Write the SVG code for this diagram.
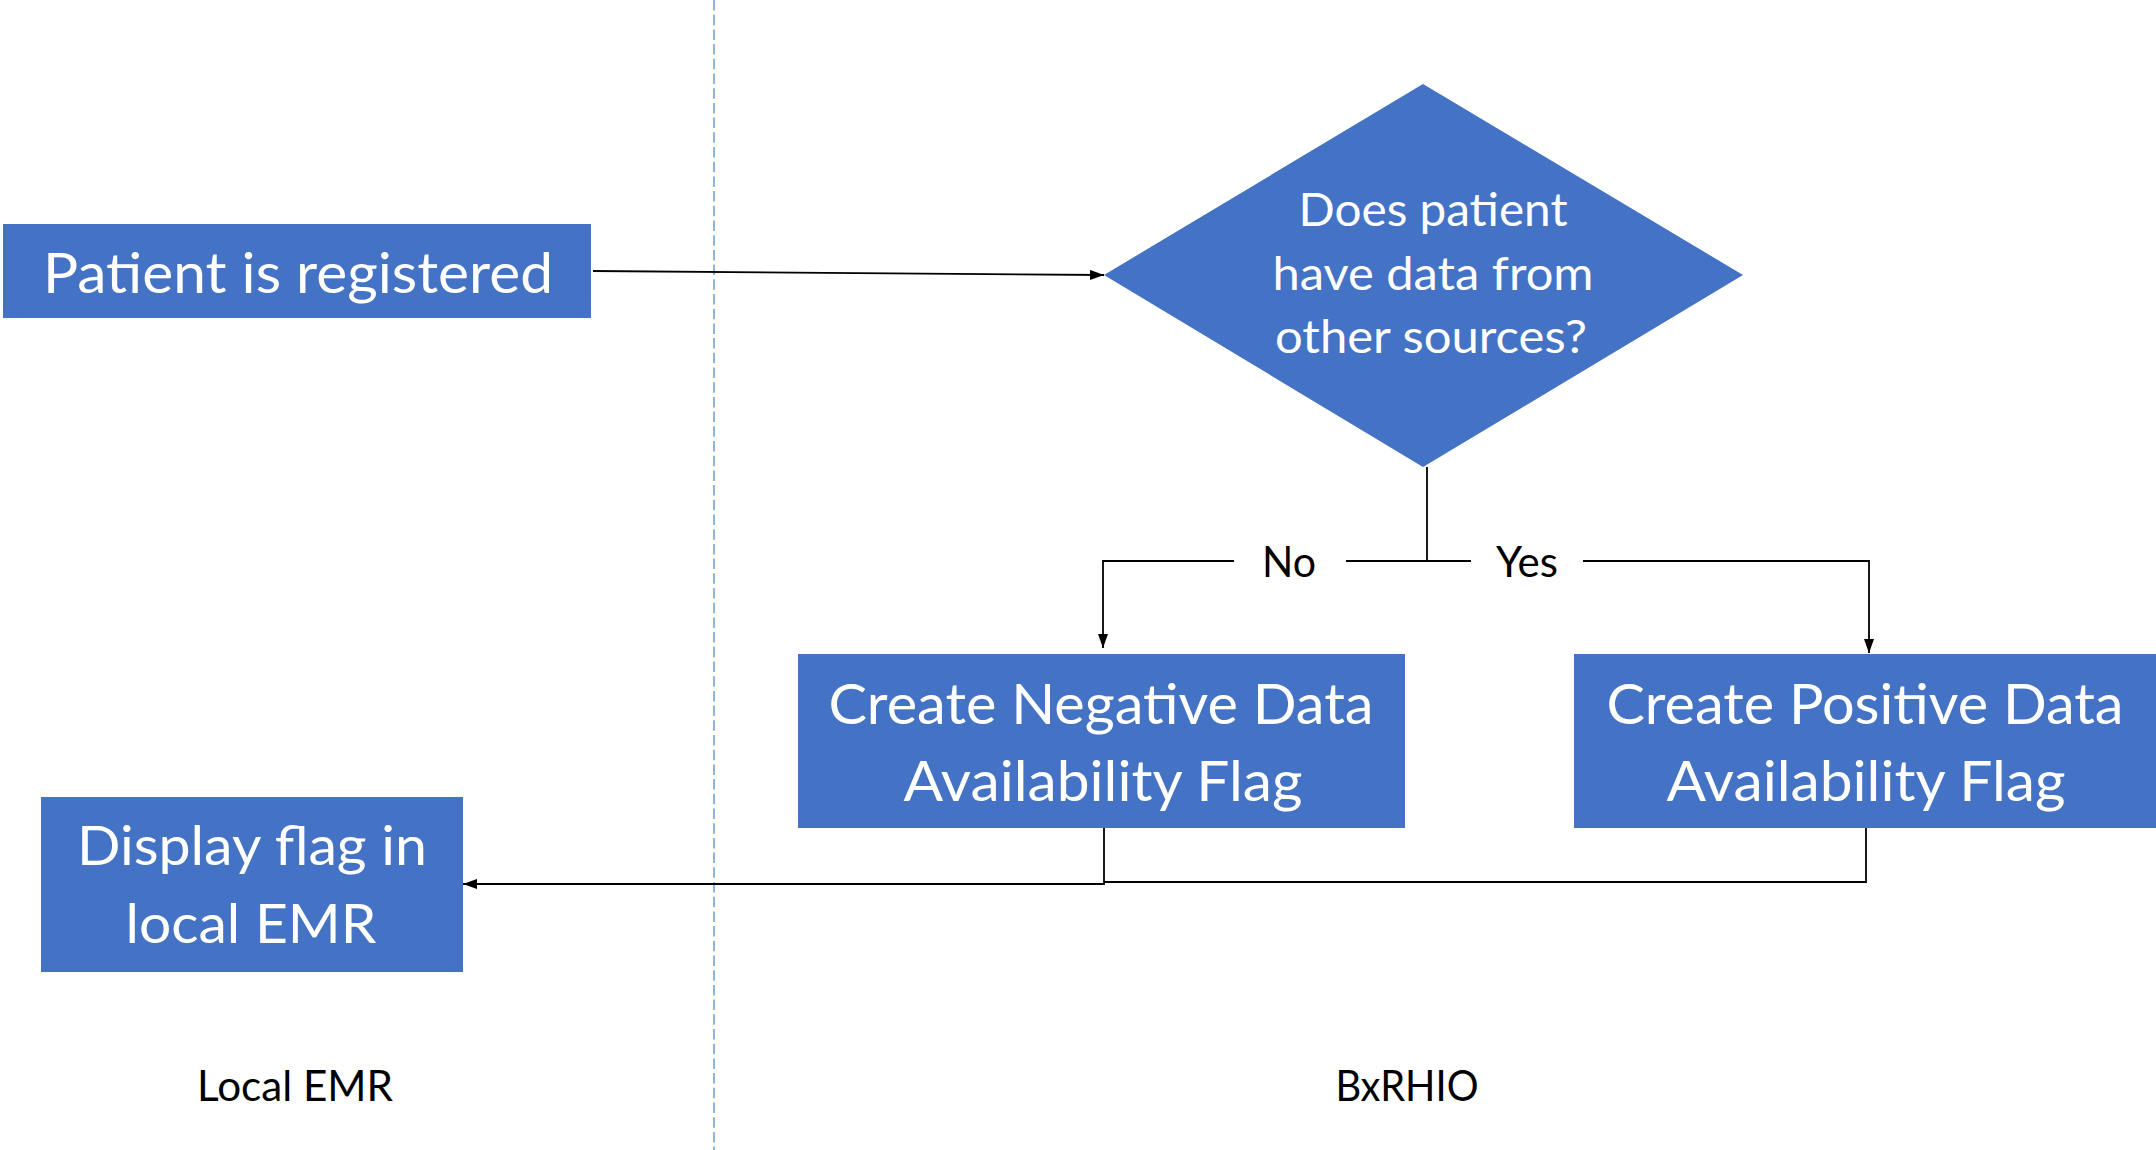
<svg xmlns="http://www.w3.org/2000/svg" width="2156" height="1150" viewBox="0 0 2156 1150">
  <style>
    .node { fill: #4472C4; }
    .nt { font-family: Lato, "Open Sans", "Liberation Sans", sans-serif; fill: #FFFFFF; text-anchor: middle; }
    .lbl { font-family: Lato, "Open Sans", "Liberation Sans", sans-serif; fill: #000000; text-anchor: middle; font-size: 42px; }
    .conn { fill: none; stroke: #000000; stroke-width: 1.8; }
    .lane { fill: none; stroke: #8EB4E3; stroke-width: 2; stroke-dasharray: 10.5 4.2; }
  </style>
  <defs>
    <marker id="arrow" viewBox="0 0 14 10" refX="14" refY="5" markerWidth="14" markerHeight="10" markerUnits="userSpaceOnUse" orient="auto">
      <path d="M0,0 L14,5 L0,10 Z" fill="#000000"/>
    </marker>
  </defs>
  <rect width="2156" height="1150" fill="#FFFFFF"/>

  <g id="lane-divider">
    <line class="lane" x1="714" y1="0" x2="714" y2="1150"/>
  </g>

  <g id="lane-labels">
    <text class="lbl" x="295" y="1101" textLength="196" lengthAdjust="spacingAndGlyphs">Local EMR</text>
    <text class="lbl" x="1407" y="1101" textLength="143" lengthAdjust="spacingAndGlyphs">BxRHIO</text>
  </g>

  <g id="connectors">
    <path class="conn" d="M593,271 L1104,275" marker-end="url(#arrow)"/>
    <path class="conn" d="M1427,467 L1427,561"/>
    <path class="conn" d="M1234,561 L1103,561 L1103,648" marker-end="url(#arrow)"/>
    <path class="conn" d="M1346,561 L1471,561"/>
    <path class="conn" d="M1583,561 L1869,561 L1869,653" marker-end="url(#arrow)"/>
    <path class="conn" d="M1866,828 L1866,882 L1104,882"/>
    <path class="conn" d="M1104,828 L1104,884 L463,884" marker-end="url(#arrow)"/>
    <text class="lbl" x="1289" y="577" textLength="54" lengthAdjust="spacingAndGlyphs">No</text>
    <text class="lbl" x="1527" y="577" textLength="62" lengthAdjust="spacingAndGlyphs">Yes</text>
  </g>

  <g id="node-patient-registered">
    <rect class="node" x="3" y="224" width="588" height="94"/>
    <text class="nt" x="298" y="293" font-size="57" textLength="510" lengthAdjust="spacingAndGlyphs">Patient is registered</text>
  </g>

  <g id="node-decision">
    <polygon class="node" points="1423,84 1743,275 1423,467 1104,275"/>
    <text class="nt" x="1433" y="226" font-size="46" textLength="269" lengthAdjust="spacingAndGlyphs">Does patient</text>
    <text class="nt" x="1433" y="290" font-size="46" textLength="321" lengthAdjust="spacingAndGlyphs">have data from</text>
    <text class="nt" x="1431" y="353" font-size="46" textLength="312" lengthAdjust="spacingAndGlyphs">other sources?</text>
  </g>

  <g id="node-negative-flag">
    <rect class="node" x="798" y="654" width="607" height="174"/>
    <text class="nt" x="1101" y="724" font-size="57" textLength="545" lengthAdjust="spacingAndGlyphs">Create Negative Data</text>
    <text class="nt" x="1103" y="801" font-size="57" textLength="399" lengthAdjust="spacingAndGlyphs">Availability Flag</text>
  </g>

  <g id="node-positive-flag">
    <rect class="node" x="1574" y="654" width="582" height="174"/>
    <text class="nt" x="1865" y="724" font-size="57" textLength="517" lengthAdjust="spacingAndGlyphs">Create Positive Data</text>
    <text class="nt" x="1866" y="801" font-size="57" textLength="399" lengthAdjust="spacingAndGlyphs">Availability Flag</text>
  </g>

  <g id="node-display-flag">
    <rect class="node" x="41" y="797" width="422" height="175"/>
    <text class="nt" x="252" y="865" font-size="54" textLength="350" lengthAdjust="spacingAndGlyphs">Display flag in</text>
    <text class="nt" x="251" y="943" font-size="54" textLength="251" lengthAdjust="spacingAndGlyphs">local EMR</text>
  </g>
</svg>
